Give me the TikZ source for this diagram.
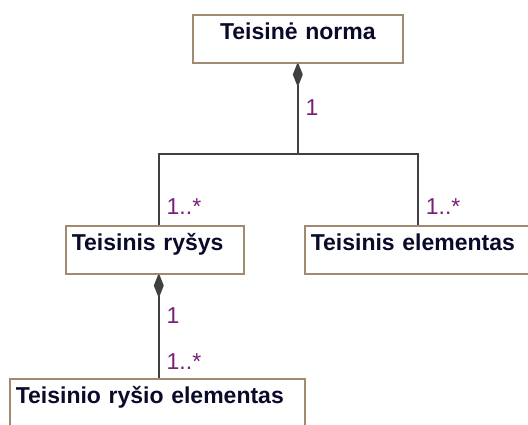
\documentclass[tikz,border=0pt]{standalone}
\usepackage{fontspec}
\setmainfont{Liberation Sans}
\usetikzlibrary{arrows.meta}

\definecolor{boxbrown}{HTML}{A08A70}
\definecolor{linegray}{HTML}{404040}
\definecolor{multpurple}{HTML}{7A1F7A}
\definecolor{namenavy}{HTML}{0A0A2A}

\tikzset{
  classbox/.style={draw=boxbrown, line width=1.6pt, fill=white, anchor=north west,
    inner xsep=6pt, inner ysep=0pt, text height=25pt, text depth=23pt,
    align=left, text=namenavy, font=\fontsize{23}{27}\selectfont\bfseries},
  assoc/.style={draw=linegray, line width=1.8pt},
  whole/.style={assoc, {Diamond[length=25pt,width=10pt,round,fill=linegray]}-},
  mult/.style={anchor=west, inner sep=0pt, xshift=7pt, text=multpurple,
    font=\fontsize{23}{27}\selectfont}
}

\begin{document}
\begin{tikzpicture}[x=1pt,y=-1pt]
    \useasboundingbox (0,0) rectangle (528,424);

    % classes
    \node[classbox, text width=198pt, align=center] (norma) at (192,14) {Teisinė norma};
    \node[classbox, text width=166pt] (rysys) at (65,225) {Teisinis ryšys};
    \node[classbox, text width=224pt] (elem) at (304,225) {Teisinis elementas};
    \node[classbox, text width=283pt] (rysioelem) at (9,378) {Teisinio ryšio elementas};

    % fork
    \coordinate (fork) at (norma.south |- 0,154);
    \coordinate (rysysin) at ([xshift=4pt]rysys.north);
    \coordinate (elemin) at ([xshift=114pt]elem.north west);
    \coordinate (rysysout) at ([xshift=4pt]rysys.south);

    % composition norma
    \draw[whole] (norma.south) -- (fork) node[mult, pos=.49] (m1) {1};
    \draw[assoc] (fork) -| (rysysin) node[mult, pos=.87] (m2) {1..*};
    \draw[assoc] (fork) -| (elemin) node[mult, pos=.87] (m3) {1..*};

    % composition rysys
    \draw[whole] (rysysout) -- (rysysout |- rysioelem.north)
        node[mult, pos=.4] (m4) {1}
        node[mult, pos=.84] (m5) {1..*};
\end{tikzpicture}
\end{document}
